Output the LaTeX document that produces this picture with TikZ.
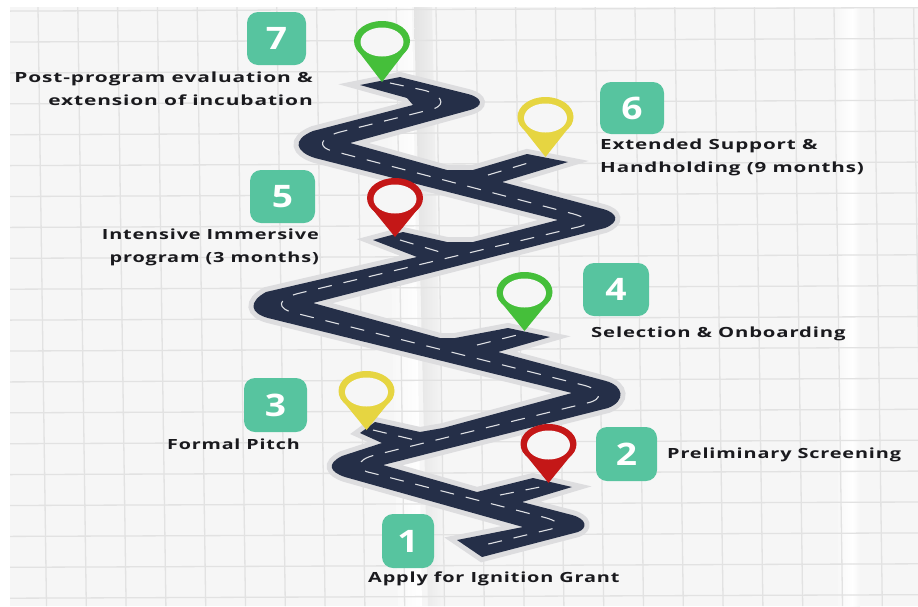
\documentclass[tikz,border=0pt]{standalone}
\usepackage{fontspec}
\setmainfont{Open Sans}[BoldFont={Open Sans Bold}]
\newfontfamily\labf{Open Sans}[FakeStretch=1.42,LetterSpace=6,BoldFont={Open Sans Bold}]
\newfontfamily\numf{Open Sans}[FakeStretch=1.2,BoldFont={Open Sans Bold}]
\usetikzlibrary{calc}
\definecolor{roadc}{HTML}{252F48}
\definecolor{haloc}{HTML}{DDDDDF}
\definecolor{badgec}{HTML}{57C49F}
\definecolor{pgreen}{HTML}{45BF3A}
\definecolor{pred}{HTML}{C41717}
\definecolor{pyellow}{HTML}{E6D541}
\definecolor{paper}{HTML}{F6F6F6}
\definecolor{gridc}{HTML}{E2E2E2}
\definecolor{textc}{HTML}{1A1A1E}
\tikzset{
  badge/.style={fill=badgec,rounded corners=11pt},
  numtext/.style={text=white,font=\numf\bfseries\fontsize{31}{36}\selectfont,inner sep=0pt},
  lab/.style={text=textc,font=\labf\bfseries\fontsize{14}{22.8}\selectfont,inner sep=0pt,anchor=base west},
  labr/.style={lab,anchor=base east,align=right},
  labl/.style={lab,align=left},
  gridline/.style={draw=gridc,line width=1.3pt},
  centerline/.style={draw=white!85!roadc,line width=1.1pt,dash pattern=on 14pt off 12pt},
}
\newcommand{\drawpin}[4]{% colour, cx, cy, tip y
  \fill[#1] (#2,#3) ellipse [x radius=28,y radius=20];
  \fill[#1] (#2-26.5,#3+6.5) -- (#2,#4) -- (#2+26.5,#3+6.5) -- cycle;
  \fill[paper] (#2,#3+1) ellipse [x radius=21.5,y radius=14.5];
}
\newcommand{\drawbadge}[6]{% name, x1, y1, x2, y2, digit
  \fill[badge] (#2,#3) rectangle (#4,#5);
  \node[numtext] (#1) at ({(#2+#4)/2},{(#3+#5)/2}) {#6};
}
\begin{document}
\begin{tikzpicture}[x=1pt,y=-1pt]
\useasboundingbox (0,0) rectangle (918,606);
\fill[white] (0,0) rectangle (918,606);
\begin{scope}
\clip (10,7) rectangle (918,606);
\fill[paper] (10,7) rectangle (918,606);
% creases
\shade[left color=paper,right color=white] (385,7) -- (412,7) -- (422,606) -- (398,606) -- cycle;
\shade[left color=gray!22,right color=paper] (414,7) -- (432,7) -- (445,606) -- (428,606) -- cycle;
\shade[left color=paper,right color=white] (835,7) -- (852,7) -- (852,606) -- (838,606) -- cycle;
\shade[left color=white,right color=paper] (852,7) -- (860,7) -- (860,606) -- (852,606) -- cycle;
% grid
\foreach \k in {0,...,22}{
  \draw[gridline] ({38+39.8*\k},7) -- ({46.5+39.8*\k},606);
}
\foreach \j in {-1,...,18}{
  \draw[gridline] (10,{42+30.9*\j}) -- (918,{38.5+30.9*\j});
}
\end{scope}
% road
\def\roadpath{(360,85) -- (400,77) -- (468,94) .. controls (483,98) and (484,106) .. (470,110) -- (350,143) -- (447,170) -- (473,170) -- (527,154) -- (568,162) -- (502,182) -- (603,209) .. controls (618,213) and (620,222) .. (605,228) -- (313,303) -- (440,338) -- (455,338) -- (508,328) -- (550,337) -- (498,352) -- (606,381) .. controls (624,386) and (626,401) .. (608,408) -- (383,465) -- (477,492) -- (533,478) -- (572,487) -- (522,502) -- (572,515) .. controls (587,519) and (588,528) .. (578,532) -- (482,557) -- (457,540) -- (523,527) -- (345,477) .. controls (330,472) and (326,464) .. (342,456) -- (382,443) -- (360,433) -- (375,422) -- (420,432) -- (443,428) -- (572,393) -- (268,318) .. controls (250,313) and (248,302) .. (266,292) -- (417,257) -- (373,240) -- (403,232) -- (447,242) -- (473,242) -- (558,220) -- (315,158) .. controls (296,152) and (291,140) .. (313,131) -- (413,105) -- (407,98) -- cycle}
\draw[haloc,line width=10pt,line join=miter,miter limit=12] \roadpath;
\fill[roadc] \roadpath;
% centre dashes
\draw[centerline] (390,83) -- (423,90) .. controls (440,94) and (448,104) .. (433,109) -- (340,132) .. controls (318,138) and (318,148) .. (333,151) -- (570,213) .. controls (590,218) and (592,224) .. (578,227) -- (300,293) .. controls (275,299) and (277,309) .. (295,313) -- (583,385) .. controls (603,390) and (603,400) .. (587,403) -- (375,455) .. controls (355,460) and (355,470) .. (372,473) -- (543,517) .. controls (562,522) and (562,527) .. (547,530) -- (480,546);
\draw[centerline] (488,175) -- (528,163);
\draw[centerline] (400,240) -- (440,252);
\draw[centerline] (477,345) -- (517,335);
\draw[centerline] (373,430) -- (415,440);
\draw[centerline] (500,495) -- (540,487);
% pins
\drawpin{pgreen}{382}{41}{82}
\drawpin{pyellow}{545.5}{117}{157}
\drawpin{pred}{395}{198}{237}
\drawpin{pgreen}{524.5}{292}{331}
\drawpin{pyellow}{366.5}{391}{430}
\drawpin{pred}{548.5}{444}{483}
% badges
\drawbadge{n7}{247}{12}{306}{65}{7}
\drawbadge{n6}{600}{82}{664}{134}{6}
\drawbadge{n5}{250}{170}{315}{223}{5}
\drawbadge{n4}{583}{263}{649}{316}{4}
\drawbadge{n3}{244}{378}{307}{432}{3}
\drawbadge{n2}{596}{427}{657}{481}{2}
\drawbadge{n1}{382}{514}{434}{568}{1}
% labels
\node[labr,xscale=1.05] (t7) at (313,105) {Post-program evaluation \&\\extension of incubation};
\node[labl,xscale=1.035] (t6) at (600,172) {Extended Support \&\\Handholding (9 months)};
\node[labr] (t5) at (319,262) {Intensive Immersive\\program (3 months)};
\node[lab,xscale=1.02] (t4) at (591,337) {Selection \& Onboarding};
\node[lab,xscale=0.99] (t3) at (167,449) {Formal Pitch};
\node[lab] (t2) at (667,458) {Preliminary Screening};
\node[lab] (t1) at (368,582) {Apply for Ignition Grant};
\end{tikzpicture}
\end{document}
